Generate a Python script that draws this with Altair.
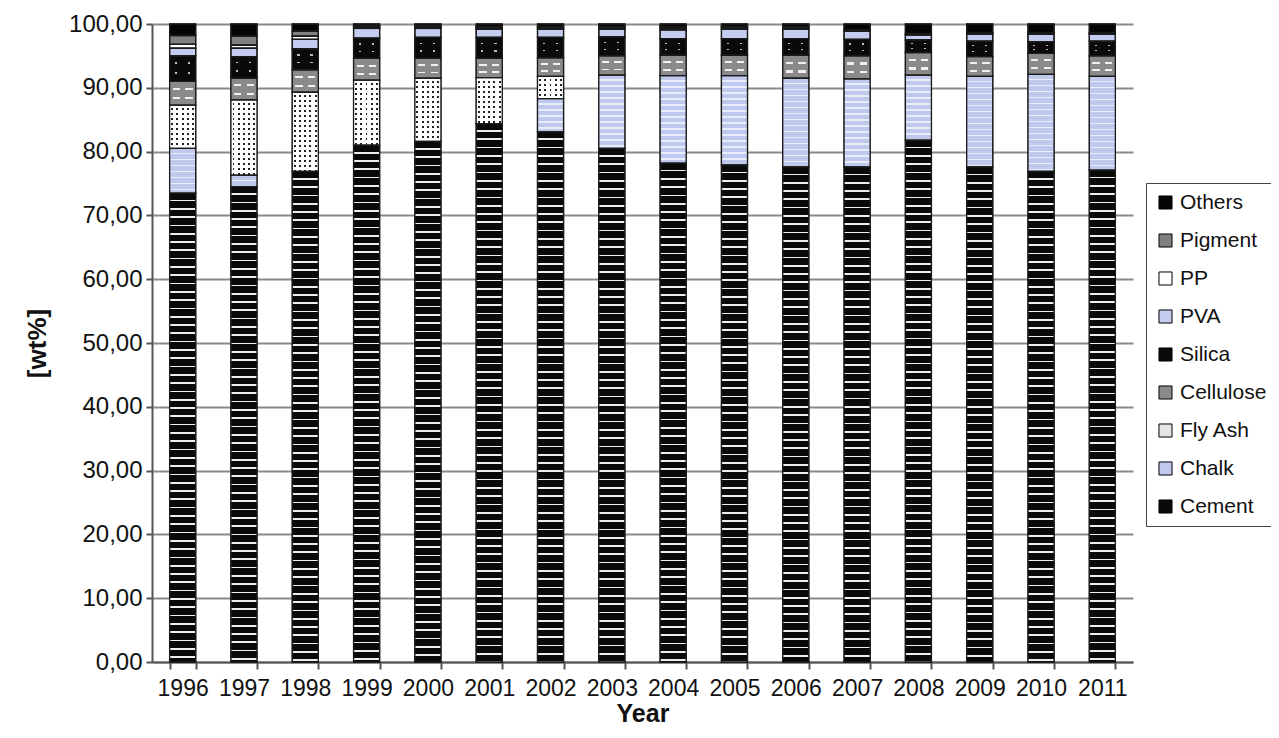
import altair as alt
import pandas as pd

years = [str(y) for y in range(1996, 2012)]

cement    = [73.5, 74.5, 76.9, 81.0, 81.6, 84.4, 83.1, 80.5, 78.2, 77.9, 77.6, 77.6, 81.8, 77.6, 76.9, 77.1]
chalk     = [7.0, 1.8, 0.0, 0.0, 0.0, 0.0, 5.2, 11.5, 13.7, 14.0, 13.9, 13.8, 10.2, 14.2, 15.2, 14.7]
fly_ash   = [6.8, 11.8, 12.4, 10.2, 9.9, 7.2, 3.5, 0.0, 0.0, 0.0, 0.0, 0.0, 0.0, 0.0, 0.0, 0.0]
cellulose = [3.7, 3.4, 3.5, 3.4, 3.1, 3.0, 2.9, 3.0, 3.2, 3.2, 3.6, 3.6, 3.5, 3.1, 3.3, 3.2]
silica    = [4.0, 3.4, 3.3, 3.2, 3.3, 3.3, 3.2, 3.0, 2.6, 2.6, 2.6, 2.6, 2.0, 2.4, 1.8, 2.3]
pva       = [1.2, 1.3, 1.5, 1.5, 1.4, 1.3, 1.3, 1.2, 1.4, 1.5, 1.5, 1.3, 0.8, 1.1, 1.2, 1.1]
pp        = [0.6, 0.5, 0.5, 0.2, 0.2, 0.2, 0.2, 0.2, 0.2, 0.2, 0.2, 0.2, 0.2, 0.2, 0.2, 0.2]
pigment   = [1.4, 1.4, 0.8, 0.2, 0.2, 0.2, 0.2, 0.2, 0.2, 0.2, 0.2, 0.0, 0.0, 0.0, 0.0, 0.0]
others    = [1.8, 1.9, 1.1, 0.3, 0.3, 0.4, 0.4, 0.4, 0.5, 0.4, 0.4, 0.9, 1.5, 1.4, 1.4, 1.4]

materials = ["Cement", "Chalk", "Fly Ash", "Cellulose", "Silica", "PVA", "PP", "Pigment", "Others"]
series = [cement, chalk, fly_ash, cellulose, silica, pva, pp, pigment, others]

legend_order = ["Others", "Pigment", "PP", "PVA", "Silica", "Cellulose", "Fly Ash", "Chalk", "Cement"]
legend_colors = ["#050505", "#808080", "#ffffff", "#c4cdf0", "#0a0a0a", "#8a8a8a", "#e4e4e4", "#c0caee", "#0a0a0a"]

rows = []
for order, (m, vals) in enumerate(zip(materials, series)):
    for y, v in zip(years, vals):
        rows.append({"Year": y, "Material": m, "value": v, "order": order})
df = pd.DataFrame(rows)

W, H = 981, 638
PX = H / 100.0
BAR_W = 26

x_enc = alt.X("Year:N", sort=years,
              scale=alt.Scale(paddingInner=0.575, paddingOuter=0.2875),
              axis=alt.Axis(title="Year", titleFontSize=25, titleFontWeight="bold",
                            titleColor="#111", labelFontSize=23, labelColor="#111",
                            labelAngle=0, tickBand="extent", tickSize=7, tickWidth=2,
                            tickColor="#555", domainColor="#555", domainWidth=2,
                            grid=False, labelPadding=8, titlePadding=1))
y_enc = alt.Y("y0:Q", scale=alt.Scale(domain=[0, 100], nice=False),
              axis=alt.Axis(title="[wt%]", titleFontSize=26, titleFontWeight="bold",
                            titleColor="#111", labelFontSize=24, labelColor="#111",
                            values=list(range(0, 101, 10)),
                            labelExpr="replace(format(datum.value, '.2f'), '.', ',')",
                            tickSize=6, tickWidth=2, tickColor="#555",
                            domainColor="#555", domainWidth=2,
                            gridColor="#8a8a8a", gridWidth=2, labelPadding=4,
                            titlePadding=18))
y2_enc = alt.Y2("y1:Q")


def stops_rows(h, period, line, base, line_color):
    st = []
    pos = 0.0
    while pos < h:
        a = pos / h
        b = min((pos + period - line) / h, 1.0)
        c = min((pos + period) / h, 1.0)
        st.append({"offset": a, "color": base})
        st.append({"offset": b, "color": base})
        st.append({"offset": b, "color": line_color})
        st.append({"offset": c, "color": line_color})
        pos += period
    return st


def stops_windows(windows, mask, hole="rgba(255,255,255,0)"):
    st = [{"offset": 0.0, "color": mask}]
    for a, b in windows:
        st.append({"offset": a, "color": mask})
        st.append({"offset": a, "color": hole})
        st.append({"offset": b, "color": hole})
        st.append({"offset": b, "color": mask})
    st.append({"offset": 1.0, "color": mask})
    return st


def vgrad(stops):
    return {"gradient": "linear", "x1": 0, "y1": 0, "x2": 0, "y2": 1, "stops": stops}


def hgrad(stops):
    return {"gradient": "linear", "x1": 0, "y1": 0, "x2": 1, "y2": 0, "stops": stops}


def layer_for(filter_expr, fill):
    return alt.Chart().mark_bar(fill=fill, strokeWidth=0).encode(
        x=x_enc, y=y_enc, y2=y2_enc).transform_filter(filter_expr)


base = alt.Chart().mark_bar(stroke="#1a1a1a", strokeWidth=1.2).encode(
    x=x_enc, y=y_enc, y2=y2_enc,
    color=alt.Color("Material:N",
                    scale=alt.Scale(domain=legend_order, range=legend_colors),
                    legend=alt.Legend(title=None, orient="none", legendX=994, legendY=159,
                                      symbolType="square", symbolSize=170,
                                      symbolStrokeColor="#000", symbolStrokeWidth=1,
                                      labelFontSize=21, labelColor="#111",
                                      rowPadding=16, padding=9,
                                      strokeColor="#444", labelLimit=300,
                                      labelOffset=4)))

layers = [base]

# Cement: black with white brick rows
for y, v in zip(years, cement):
    h = v * PX
    f = f"datum.Material === 'Cement' && datum.Year === '{y}'"
    layers.append(layer_for(f, vgrad(stops_rows(h, 8.3, 1.7, "#0a0a0a", "#eeeeee"))))

# Chalk: light blue with pale wavy rows
for y, v in zip(years, chalk):
    if v <= 0:
        continue
    h = v * PX
    f = f"datum.Material === 'Chalk' && datum.Year === '{y}'"
    layers.append(layer_for(f, vgrad(stops_rows(h, 6.0, 1.6, "#bfc9ee", "#e9edfb"))))

# Fly Ash: white with dark dots
col_w = [(i * 5.2 + 1.6) / BAR_W for i in range(5)]
fa_windows = [(a, a + 1.9 / BAR_W) for a in col_w]
for y, v in zip(years, fly_ash):
    if v <= 0:
        continue
    h = v * PX
    f = f"datum.Material === 'Fly Ash' && datum.Year === '{y}'"
    layers.append(layer_for(f, vgrad(stops_rows(h, 5.0, 1.9, "#ffffff", "#222222"))))
    layers.append(layer_for(f, hgrad(stops_windows(fa_windows, "#ffffff"))))

# Cellulose: gray with white dashes
fc = "datum.Material === 'Cellulose'"
cel_rows = [{"offset": 0, "color": "#8a8a8a"}, {"offset": 0.28, "color": "#8a8a8a"},
            {"offset": 0.28, "color": "#f0f0f0"}, {"offset": 0.38, "color": "#f0f0f0"},
            {"offset": 0.38, "color": "#8a8a8a"}, {"offset": 0.66, "color": "#8a8a8a"},
            {"offset": 0.66, "color": "#f0f0f0"}, {"offset": 0.76, "color": "#f0f0f0"},
            {"offset": 0.76, "color": "#8a8a8a"}, {"offset": 1, "color": "#8a8a8a"}]
layers.append(layer_for(fc, vgrad(cel_rows)))
layers.append(layer_for(fc, hgrad(stops_windows([(0.12, 0.4), (0.6, 0.88)], "#8a8a8a"))))

# Silica: black with small light flecks
fs = "datum.Material === 'Silica'"
sil_rows = [{"offset": 0, "color": "#0a0a0a"}, {"offset": 0.25, "color": "#0a0a0a"},
            {"offset": 0.25, "color": "#bbbbbb"}, {"offset": 0.32, "color": "#bbbbbb"},
            {"offset": 0.32, "color": "#0a0a0a"}, {"offset": 0.62, "color": "#0a0a0a"},
            {"offset": 0.62, "color": "#bbbbbb"}, {"offset": 0.69, "color": "#bbbbbb"},
            {"offset": 0.69, "color": "#0a0a0a"}, {"offset": 1, "color": "#0a0a0a"}]
layers.append(layer_for(fs, vgrad(sil_rows)))
layers.append(layer_for(fs, hgrad(stops_windows([(0.2, 0.28), (0.7, 0.78)], "#0a0a0a"))))

outline = alt.Chart().mark_bar(fillOpacity=0, stroke="#1a1a1a", strokeWidth=1.3).encode(
    x=x_enc, y=y_enc, y2=y2_enc)
layers.append(outline)

chart = alt.layer(*layers, data=df).transform_filter(
    "datum.value > 0"
).transform_stack(
    stack="value", groupby=["Year"], as_=["y0", "y1"],
    sort=[alt.SortField("order", "ascending")]
).properties(
    width=W, height=H,
    padding={"left": 144, "top": 16, "right": 138, "bottom": 68},
    autosize=alt.AutoSizeParams(type="none"),
).configure(font="Liberation Sans").configure_view(strokeWidth=0)

chart.save("out.html", embed_options={"renderer": "svg", "actions": False})
